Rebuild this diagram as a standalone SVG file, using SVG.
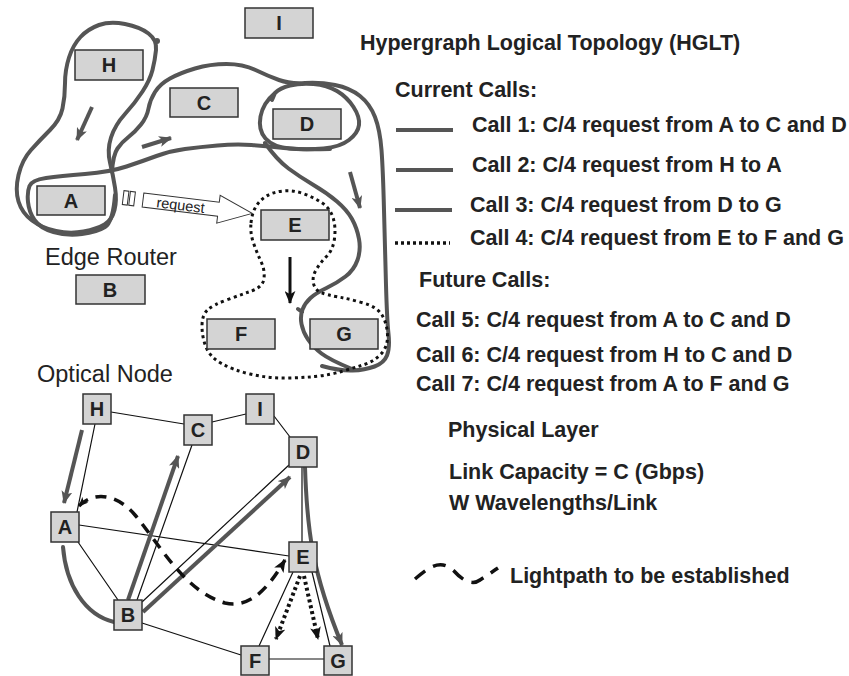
<svg xmlns="http://www.w3.org/2000/svg" width="849" height="676" viewBox="0 0 849 676">
<defs>
<style>
.bx{fill:#d4d4d4;stroke:#333;stroke-width:1.5}
.lb{font-family:"Liberation Sans",Arial,sans-serif;font-weight:bold;font-size:20px;fill:#222;text-anchor:middle}
.tx{font-family:"Liberation Sans",Arial,sans-serif;font-weight:bold;font-size:21.5px;fill:#222}
.rg{font-family:"Liberation Sans",Arial,sans-serif;font-size:23.5px;fill:#222}
.hg{fill:none;stroke:#555;stroke-width:4;stroke-linecap:round;stroke-linejoin:round}
.dot{fill:none;stroke:#111;stroke-width:3;stroke-dasharray:3 3.5}
.thin{fill:none;stroke:#111;stroke-width:1.2}
.ga{fill:none;stroke:#555;stroke-width:4;marker-end:url(#ag)}
.ba{fill:none;stroke:#111;stroke-width:3;marker-end:url(#ab)}
</style>
<marker id="ag" viewBox="0 0 12 10" refX="11" refY="5" markerWidth="13" markerHeight="11" markerUnits="userSpaceOnUse" orient="auto"><path d="M0,0 L12,5 L0,10 L3,5 z" fill="#555"/></marker>
<marker id="ab" viewBox="0 0 12 10" refX="11" refY="5" markerWidth="13" markerHeight="11" markerUnits="userSpaceOnUse" orient="auto"><path d="M0,0 L12,5 L0,10 L3,5 z" fill="#111"/></marker>
<marker id="abs" viewBox="0 0 12 10" refX="11" refY="5" markerWidth="10" markerHeight="8" markerUnits="userSpaceOnUse" orient="auto-start-reverse"><path d="M0,0 L12,5 L0,10 L3,5 z" fill="#111"/></marker>
</defs>
<rect width="849" height="676" fill="#fff"/>

<g id="connectors">
<!-- hypergraph top -->
<path class="hg" d="M156,50 Q157,40 148.5,33.5 Q140,27 125,24 Q110,21 99,25 Q88,29 80.5,37 Q73,45 69,57.5 Q65,70 65,83.5 Q65,97 62.5,108.5 Q60,120 50,130 Q40,140 31,150 Q22,160 18.5,175 Q15,190 18.5,201.5 Q22,213 32,220.5 Q42,228 56,231 Q70,234 83.5,231.5 Q97,229 104.5,224.5 Q112,220 114.5,210 Q117,200 115,187.5 Q113,175 110,162.5 Q107,150 111,137.5 Q115,125 125,114 Q135,103 142.5,91.5 Q150,80 152.5,70 Q155,60 156,50 Z"/>
<circle cx="157" cy="41" r="3" fill="#555"/>
<path class="hg" d="M115,195 Q113,222 105,227 Q97,232 82,234 Q67,236 53.5,232 Q40,228 34.5,220 Q29,212 28,202 Q27,192 29.5,186 Q32,180 46,178 Q60,176 85,174 Q110,172 126.5,166.5 Q143,161 156.5,156 Q170,151 185,149 Q200,147 217.5,145.5 Q235,144 251.5,145 Q268,146 284,148 Q300,150 330,149"/>
<path class="hg" d="M112,172 Q113,155 117.5,148.5 Q122,142 128.5,137 Q135,132 141,124.5 Q147,117 148.5,108.5 Q150,100 155,92 Q160,84 170,78.5 Q180,73 195,68.5 Q210,64 226.5,64 Q243,64 255.5,70 Q268,76 279,80 Q290,84 305,83 Q320,82 335,85 Q350,88 360,96 Q370,104 375,117 Q380,130 381.5,150 Q383,170 384,210 Q385,250 386,285 Q387,320 388.5,334 Q390,348 387,355.5 Q384,363 374.5,366.5 Q365,370 352.5,370.5 Q340,371 322,366"/>
<path class="hg" d="M275,93 Q263,103 260.5,116.5 Q258,130 265.5,138.5 Q273,147 290,148.5 Q307,150 323.5,148.5 Q340,147 349,140 Q358,133 359,125 Q360,117 353.5,107 Q347,97 337,91 Q327,85 313.5,84 Q300,83 290,85.5 Q280,88 275,93 L272,100"/>
<path class="hg" d="M265,143 Q277,160 288.5,168.5 Q300,177 313.5,185 Q327,193 337,201.5 Q347,210 352,219 Q357,228 359,239 Q361,250 357.5,260 Q354,270 345.5,276.5 Q337,283 326.5,288 Q316,293 310.5,298 Q305,303 302.5,309.5 Q300,316 301.5,324 Q303,332 308,339.5 Q313,347 321.5,353.5 Q330,360 352,369 M302,312 L298,309"/>
<path class="dot" d="M251,223 Q252,213 256,206.5 Q260,200 266.5,196 Q273,192 283,191 Q293,190 303,193.5 Q313,197 321.5,202.5 Q330,208 333,217.5 Q336,227 334.5,238.5 Q333,250 326.5,256.5 Q320,263 316,270 Q312,277 313.5,283.5 Q315,290 321,292.5 Q327,295 338.5,297 Q350,299 363.5,303 Q377,307 382,315 Q387,323 387.5,335 Q388,347 380.5,354.5 Q373,362 363,365 Q353,368 341.5,371.5 Q330,375 315,376.5 Q300,378 283.5,378 Q267,378 250,374 Q233,370 221.5,363.5 Q210,357 206,347 Q202,337 202,326 Q202,315 207.5,310 Q213,305 226.5,300 Q240,295 251.5,291 Q263,287 264,278.5 Q265,270 261,261.5 Q257,253 253.5,243 Q250,233 251,223 Z"/>
<path class="ga" d="M92,107 L77,140"/>
<path class="ga" d="M142,147 L171,138"/>
<path class="ga" d="M350,172 L360,208"/>
<path class="ba" d="M290,257 L290,303"/>
<!-- request arrow -->
<g transform="rotate(7 143 200)" fill="#fff" stroke="#333" stroke-width="1">
<rect x="123" y="193" width="5" height="14"/>
<rect x="129.5" y="193" width="5" height="14"/>
<path d="M143,193 L219,193 L219,186 L253,200 L219,214 L219,207 L143,207 Z"/>
<text x="181" y="205.5" font-family="'Liberation Sans',Arial,sans-serif" font-size="14.5" fill="#222" stroke="none" text-anchor="middle">request</text>
</g>
<!-- physical layer -->
<path class="thin" d="M111,412 L184,424 M212,422 L246,414 M274,416 L290,437 M95,424 L77,512 M79,525 L289,556 M78,542 L118,600 M137,600 L192,445 M142,602 L289,465 M142,623 L241,655 M302,467 L302,542 M293,572 L259,646 M312,572 L330,646 M269,659 L324,659"/>
<path class="ga" d="M82,430 L64,503"/>
<path class="ga" d="M128,600 L178,456"/>
<path class="ga" d="M143,612 L290,477"/>
<path class="hg" d="M63,547 C66,585 85,615 114,622"/>
<path class="ga" d="M305,467 C307,530 312,572 342,645"/>
<path fill="none" stroke="#111" stroke-width="4" stroke-dasharray="3 3" marker-end="url(#ab)" d="M300,576 L276,639"/>
<path fill="none" stroke="#111" stroke-width="4" stroke-dasharray="3 3" marker-end="url(#ab)" d="M304,576 L318,639"/>
<path fill="none" stroke="#111" stroke-width="3.5" stroke-dasharray="11 8" marker-start="url(#abs)" marker-end="url(#ab)" d="M79,506 C95,490 118,495 135,515 C160,545 185,592 225,603 C252,609 270,585 285,560"/>
<!-- legend -->
<path stroke="#555" stroke-width="4" d="M396,130 L453,130 M396,170 L453,170 M395,210 L452,210"/>
<path fill="none" stroke="#111" stroke-width="3.5" stroke-dasharray="3 3" d="M395,243 L450,243"/>
<path fill="none" stroke="#111" stroke-width="3.5" stroke-dasharray="13 9" d="M415,579 C428,568 440,558 454,571 C462,580 472,586 480,580 C488,575 492,572 498,568"/>
</g>

<g id="node-I-top"><rect class="bx" x="245" y="8" width="68" height="30"/><text class="lb" x="279" y="30">I</text></g>
<g id="node-H-top"><rect class="bx" x="75" y="50" width="68" height="30"/><text class="lb" x="109" y="72">H</text></g>
<g id="node-C-top"><rect class="bx" x="170" y="88" width="68" height="29"/><text class="lb" x="204" y="110">C</text></g>
<g id="node-D-top"><rect class="bx" x="273" y="109" width="68" height="30"/><text class="lb" x="307" y="131">D</text></g>
<g id="node-A-top"><rect class="bx" x="37" y="186" width="68" height="29"/><text class="lb" x="71" y="208">A</text></g>
<g id="node-E-top"><rect class="bx" x="261" y="210" width="68" height="30"/><text class="lb" x="295" y="232">E</text></g>
<g id="node-B-top"><rect class="bx" x="76" y="275" width="69" height="29"/><text class="lb" x="110" y="297">B</text></g>
<g id="node-F-top"><rect class="bx" x="207" y="319" width="68" height="30"/><text class="lb" x="241" y="341">F</text></g>
<g id="node-G-top"><rect class="bx" x="310" y="319" width="68" height="30"/><text class="lb" x="344" y="341">G</text></g>

<g id="node-H"><rect class="bx" x="83" y="394" width="28" height="30"/><text class="lb" x="97" y="416">H</text></g>
<g id="node-C"><rect class="bx" x="184" y="415" width="28" height="30"/><text class="lb" x="198" y="437">C</text></g>
<g id="node-I"><rect class="bx" x="246" y="394" width="28" height="30"/><text class="lb" x="260" y="416">I</text></g>
<g id="node-D"><rect class="bx" x="289" y="437" width="28" height="30"/><text class="lb" x="303" y="459">D</text></g>
<g id="node-A"><rect class="bx" x="51" y="512" width="28" height="30"/><text class="lb" x="65" y="534">A</text></g>
<g id="node-E"><rect class="bx" x="289" y="542" width="28" height="30"/><text class="lb" x="303" y="564">E</text></g>
<g id="node-B"><rect class="bx" x="114" y="600" width="28" height="30"/><text class="lb" x="128" y="622">B</text></g>
<g id="node-F"><rect class="bx" x="241" y="646" width="28" height="29"/><text class="lb" x="255" y="668">F</text></g>
<g id="node-G"><rect class="bx" x="324" y="646" width="28" height="29"/><text class="lb" x="338" y="668">G</text></g>

<g id="labels">
<text class="rg" x="45" y="265">Edge Router</text>
<text class="rg" x="37" y="382">Optical Node</text>
<text class="tx" x="360" y="50">Hypergraph Logical Topology (HGLT)</text>
<text class="tx" x="395" y="97">Current Calls:</text>
<text class="tx" x="472" y="132">Call 1: C/4 request from A to C and D</text>
<text class="tx" x="472" y="172">Call 2: C/4 request from H to A</text>
<text class="tx" x="470" y="212">Call 3: C/4 request from D to G</text>
<text class="tx" x="470" y="245">Call 4: C/4 request from E to F and G</text>
<text class="tx" x="419" y="287">Future Calls:</text>
<text class="tx" x="416" y="327">Call 5: C/4 request from A to C and D</text>
<text class="tx" x="416" y="362">Call 6: C/4 request from H to C and D</text>
<text class="tx" x="416" y="391">Call 7: C/4 request from A to F and G</text>
<text class="tx" x="448" y="437">Physical Layer</text>
<text class="tx" x="449" y="479">Link Capacity = C (Gbps)</text>
<text class="tx" x="449" y="510">W Wavelengths/Link</text>
<text class="tx" x="510" y="583">Lightpath to be established</text>
</g>
</svg>
